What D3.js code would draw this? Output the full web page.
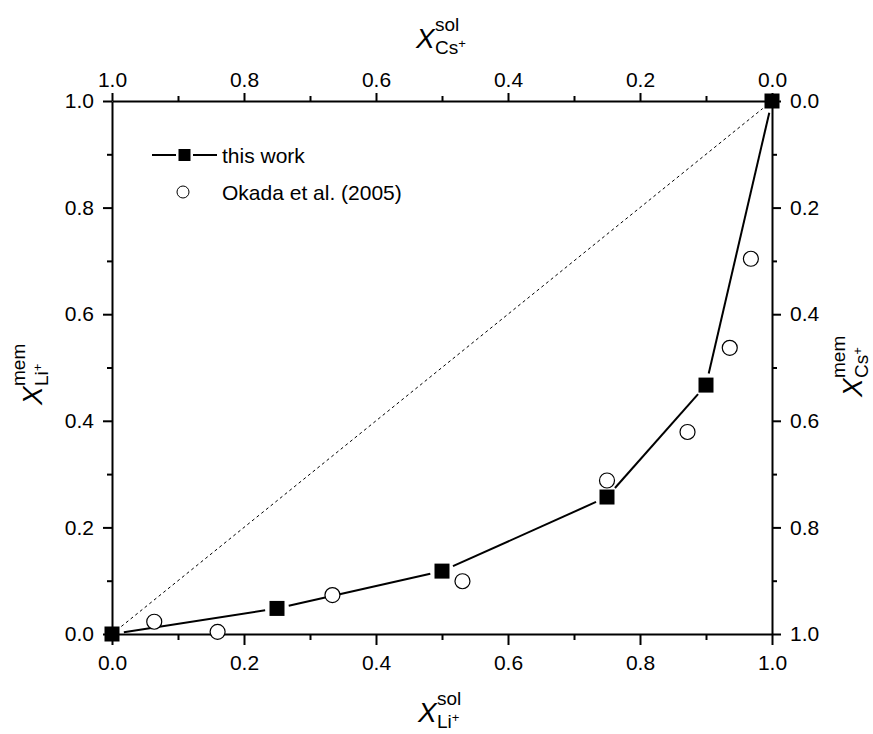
<!DOCTYPE html>
<meta charset='utf-8'>
<style>
    html, body {
        margin: 0;
        background: white;
    }

    svg text {
        font-family: 'Liberation Sans', Arial, sans-serif;
        fill: black;
    }

    .axis path, .axis line {
        stroke: black;
        stroke-width: 2;
    }

    .axis text {
        font-size: 21px;
    }
</style>
<title>Li+/Cs+ selectivity</title>
<body>

<script src='https://d3js.org/d3.v7.min.js'></script>
<script>

	// this work (filled squares)
	const workX = [0, 0.25, 0.5, 0.75, 0.9, 1.0];
	const workY = [0, 0.048, 0.118, 0.257, 0.467, 1.0];

	// Okada et al. (2005) (open circles)
	const okadaX = [0.064, 0.16, 0.334, 0.531, 0.75, 0.872, 0.936, 0.968];
	const okadaY = [0.023, 0.004, 0.073, 0.099, 0.288, 0.379, 0.537, 0.704];

	const majorTicks = [0, 0.2, 0.4, 0.6, 0.8, 1.0];
	const minorTicks = [0.1, 0.3, 0.5, 0.7, 0.9];

	const legendLabels = ['this work', 'Okada et al. (2005)'];

	let width = 873, height = 734;

	let svg = d3.select('body').append('svg')
		.attr('width', width)
		.attr('height', height);

	let x = d3.scaleLinear().domain([0, 1]).range([112, 772]);
	let xTop = d3.scaleLinear().domain([1, 0]).range([112, 772]);
	let y = d3.scaleLinear().domain([0, 1]).range([634, 101]);
	let yRight = d3.scaleLinear().domain([1, 0]).range([634, 101]);

	function drawAxis(axisFn, scale, transform, major, minor, pad) {
		svg.append('g')
			.attr('class', 'axis')
			.attr('transform', transform)
			.call(axisFn(scale)
				.tickValues(majorTicks)
				.tickFormat(d3.format('.1f'))
				.tickSize(major)
				.tickSizeOuter(0)
				.tickPadding(pad));
		let g = svg.append('g')
			.attr('class', 'axis')
			.attr('transform', transform)
			.call(axisFn(scale)
				.tickValues(minorTicks)
				.tickFormat('')
				.tickSize(minor)
				.tickSizeOuter(0));
		g.select('.domain').remove();
	}

	drawAxis(d3.axisBottom, x, 'translate(0,634)', 11, 6, 10);
	drawAxis(d3.axisTop, xTop, 'translate(0,101)', 8, 5, 6);
	drawAxis(d3.axisLeft, y, 'translate(112,0)', 9, 5, 9);
	drawAxis(d3.axisRight, yRight, 'translate(772,0)', 9, 5, 9);

	// segment between two pixel points, trimmed at both ends (Origin style gap)
	function trimmed(p, q, gap) {
		let dx = q[0] - p[0], dy = q[1] - p[1];
		let len = Math.sqrt(dx * dx + dy * dy);
		let ux = dx / len, uy = dy / len;
		return [[p[0] + ux * gap, p[1] + uy * gap], [q[0] - ux * gap, q[1] - uy * gap]];
	}

	// diagonal reference line
	let diag = trimmed([x(0), y(0)], [x(1), y(1)], 12);
	svg.append('line')
		.attr('x1', diag[0][0]).attr('y1', diag[0][1])
		.attr('x2', diag[1][0]).attr('y2', diag[1][1])
		.attr('stroke', 'black')
		.attr('stroke-width', 1)
		.attr('stroke-dasharray', '3,3');

	let workPts = workX.map(function (d, i) {
		return [x(d), y(workY[i])];
	});

	let segs = d3.pairs(workPts).map(function (p) {
		return trimmed(p[0], p[1], 12);
	});

	svg.selectAll('.seg')
		.data(segs)
		.enter().append('line')
		.attr('class', 'seg')
		.attr('x1', function (d) { return d[0][0]; })
		.attr('y1', function (d) { return d[0][1]; })
		.attr('x2', function (d) { return d[1][0]; })
		.attr('y2', function (d) { return d[1][1]; })
		.attr('stroke', 'black')
		.attr('stroke-width', 2);

	svg.selectAll('.okada')
		.data(okadaX)
		.enter().append('circle')
		.attr('class', 'okada')
		.attr('cx', function (d) { return x(d); })
		.attr('cy', function (d, i) { return y(okadaY[i]); })
		.attr('r', 7.5)
		.attr('fill', 'white')
		.attr('stroke', 'black')
		.attr('stroke-width', 1.2);

	svg.selectAll('.work')
		.data(workX)
		.enter().append('rect')
		.attr('class', 'work')
		.attr('x', function (d) { return x(d) - 7.5; })
		.attr('y', function (d, i) { return y(workY[i]) - 7.5; })
		.attr('width', 15)
		.attr('height', 15)
		.attr('fill', 'black');

	// legend
	let leg = svg.append('g');
	leg.append('line').attr('x1', 152).attr('x2', 176).attr('y1', 155).attr('y2', 155)
		.attr('stroke', 'black').attr('stroke-width', 2);
	leg.append('line').attr('x1', 193).attr('x2', 217).attr('y1', 155).attr('y2', 155)
		.attr('stroke', 'black').attr('stroke-width', 2);
	leg.append('rect').attr('x', 178.5).attr('y', 149).attr('width', 12).attr('height', 12)
		.attr('fill', 'black');
	leg.append('circle').attr('cx', 183).attr('cy', 192).attr('r', 6)
		.attr('fill', 'white').attr('stroke', 'black').attr('stroke-width', 1);
	leg.selectAll('text')
		.data(legendLabels)
		.enter().append('text')
		.attr('x', 222)
		.attr('y', function (d, i) { return 163 + i * 37; })
		.style('font-size', '21px')
		.text(function (d) { return d; });

	// axis titles: italic X with stacked superscript / subscript
	function title(tx, ty, rot, sup, sub) {
		let g = svg.append('g')
			.attr('transform', 'translate(' + tx + ',' + ty + ') rotate(' + rot + ')');
		g.append('text')
			.attr('x', 0).attr('y', 0)
			.style('font-size', '28px')
			.style('font-style', 'italic')
			.text('X');
		g.append('text')
			.attr('x', 19).attr('y', -17)
			.style('font-size', '19px')
			.text(sup);
		let s = g.append('text')
			.attr('x', 19).attr('y', 6)
			.style('font-size', '19px');
		s.append('tspan').text(sub);
		s.append('tspan')
			.attr('dy', -6)
			.style('font-size', '13px')
			.text('+');
	}

	title(416, 48, 0, 'sol', 'Cs');
	title(418, 722, 0, 'sol', 'Li');
	title(42, 405, -90, 'mem', 'Li');
	title(862, 397, -90, 'mem', 'Cs');

</script>
</body>
